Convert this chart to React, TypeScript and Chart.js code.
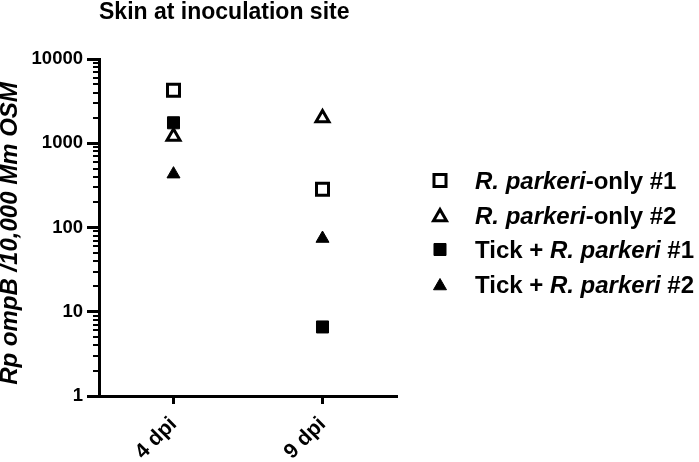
import React, { useEffect, useRef } from "react";
import { Chart, registerables } from "chart.js";

Chart.register(...registerables);

// ---- data ----
const categories = ["4 dpi", "9 dpi"];
const seriesLabels = [
  "R. parkeri-only #1",
  "R. parkeri-only #2",
  "Tick + R. parkeri #1",
  "Tick + R. parkeri #2",
];
const rpOnly1 = [4250, 284];
const rpOnly2 = [1200, 2000];
const tickRp1 = [1750, 6.6];
const tickRp2 = [430, 74];
const yMajorTicks = [1, 10, 100, 1000, 10000];
const yMinorMultipliers = [2, 3, 4, 5, 6, 7, 8, 9];
const titleText = "Skin at inoculation site";
const yTitleText = "Rp ompB /10,000 Mm OSM";
// legend text split into [text, italic] pieces
const legendParts: [string, boolean][][] = [
  [["R. parkeri", true], ["-only #1", false]],
  [["R. parkeri", true], ["-only #2", false]],
  [["Tick + ", false], ["R. parkeri", true], [" #1", false]],
  [["Tick + ", false], ["R. parkeri", true], [" #2", false]],
];
const markerShapes = ["rect", "triangle", "rect", "triangle"];
const markerFilled = [false, false, true, true];

const FONT = '"Liberation Sans", Arial, Helvetica, sans-serif';

function drawMarker(ctx: CanvasRenderingContext2D, shape: string, filled: boolean, x: number, y: number, r: number) {
  ctx.beginPath();
  if (shape === "rect") {
    const s = Math.SQRT1_2 * r;
    ctx.rect(x - s, y - s, 2 * s, 2 * s);
  } else {
    let rad = 0;
    ctx.moveTo(x + Math.sin(rad) * r, y - Math.cos(rad) * r);
    rad += (2 * Math.PI) / 3;
    ctx.lineTo(x + Math.sin(rad) * r, y - Math.cos(rad) * r);
    rad += (2 * Math.PI) / 3;
    ctx.lineTo(x + Math.sin(rad) * r, y - Math.cos(rad) * r);
    ctx.closePath();
  }
  ctx.fillStyle = filled ? "#000" : "#fff";
  ctx.fill();
  ctx.lineWidth = filled ? 1 : 3;
  ctx.strokeStyle = "#000";
  ctx.stroke();
}

const customPlugin = {
  id: "customDecor",
  afterDraw(chart: any) {
    const ctx: CanvasRenderingContext2D = chart.ctx;
    const area = chart.chartArea;
    const yScale = chart.scales.y;
    ctx.save();
    // minor ticks on the log axis
    ctx.strokeStyle = "#000";
    ctx.lineWidth = 2;
    for (let i = 0; i < yMajorTicks.length - 1; i++) {
      for (const m of yMinorMultipliers) {
        const py = Math.round(yScale.getPixelForValue(yMajorTicks[i] * m));
        ctx.beginPath();
        ctx.moveTo(area.left - 6, py);
        ctx.lineTo(area.left, py);
        ctx.stroke();
      }
    }
    ctx.fillStyle = "#000";
    // title
    ctx.font = `bold 23px ${FONT}`;
    ctx.textAlign = "left";
    ctx.textBaseline = "alphabetic";
    ctx.fillText(titleText, area.left, 19);

    // y-axis title (rotated)
    ctx.save();
    ctx.translate(17, (area.top + area.bottom) / 2 + 6);
    ctx.rotate(-Math.PI / 2);
    ctx.textAlign = "center";
    ctx.font = `italic bold 24px ${FONT}`;
    ctx.fillText(yTitleText, 0, 0);
    ctx.restore();

    // legend
    const markerX = area.right + 43;
    const textX = area.right + 78;
    const firstRow = area.top + 121.5;
    const rowGap = 34.5;
    ctx.textAlign = "left";
    chart.data.datasets.forEach((ds: any, i: number) => {
      const cy = firstRow + i * rowGap;
      drawMarker(ctx, markerShapes[i], markerFilled[i], markerX, cy + (markerShapes[i] === "triangle" ? 2 : 0), markerShapes[i] === "rect" ? 8.5 : 7.5);
      let x = textX;
      ctx.fillStyle = "#000";
      for (const [txt, ital] of legendParts[i]) {
        ctx.font = `${ital ? "italic " : ""}bold 24px ${FONT}`;
        ctx.fillText(txt, x, cy + 8.5);
        x += ctx.measureText(txt).width;
      }
    });
    ctx.restore();
  },
};

export default function App() {
  const canvasRef = useRef<HTMLCanvasElement | null>(null);

  useEffect(() => {
    document.body.style.margin = "0";
    document.body.style.overflow = "hidden";
    const canvas = canvasRef.current;
    if (!canvas) return;

    const seriesValues = [rpOnly1, rpOnly2, tickRp1, tickRp2];
    const datasets = seriesValues.map((vals, i) => ({
      label: seriesLabels[i],
      data: vals,
      showLine: false,
      pointStyle: markerShapes[i],
      pointRadius: markerShapes[i] === "rect" ? 8.5 : 7.5,
      pointBorderWidth: markerFilled[i] ? 1 : 3,
      pointBackgroundColor: markerFilled[i] ? "#000" : "#fff",
      pointBorderColor: "#000",
      borderColor: "#000",
      backgroundColor: markerFilled[i] ? "#000" : "#fff",
    }));

    const chart = new Chart(canvas, {
      type: "line",
      data: { labels: categories, datasets },
      plugins: [customPlugin],
      options: {
        animation: false,
        responsive: true,
        maintainAspectRatio: false,
        layout: { padding: { left: 0, top: 59, right: 302, bottom: 0 } },
        plugins: {
          legend: { display: false },
          title: { display: false },
          tooltip: { enabled: false },
        },
        scales: {
          x: {
            type: "category",
            offset: true,
            grid: {
              offset: false,
              drawOnChartArea: false,
              drawTicks: true,
              tickLength: 8,
              tickWidth: 3,
              tickColor: "#000",
            },
            border: { display: true, width: 3, color: "#000" },
            ticks: {
              color: "#000",
              font: { family: FONT, size: 21, weight: "bold" },
              minRotation: 45,
              maxRotation: 45,
              padding: 8,
            },
            afterFit: (scale: any) => {
              scale.height = 66;
            },
          },
          y: {
            type: "logarithmic",
            min: 1,
            max: 10000,
            grid: {
              drawOnChartArea: false,
              drawTicks: true,
              tickLength: 12,
              tickWidth: 3,
              tickColor: "#000",
            },
            border: { display: true, width: 3, color: "#000" },
            afterBuildTicks: (scale: any) => {
              scale.ticks = yMajorTicks.map((v) => ({ value: v }));
            },
            ticks: {
              color: "#000",
              font: { family: FONT, size: 18.5, weight: "bold" },
              padding: 4,
              autoSkip: false,
              callback: (v: any) => String(v),
            },
            title: { display: false },
            afterFit: (scale: any) => {
              scale.width = 99;
            },
          },
        },
      },
    });
    return () => chart.destroy();
  }, []);

  return (
    <div style={{ width: 699, height: 462, position: "relative" }}>
      <canvas ref={canvasRef} />
    </div>
  );
}
